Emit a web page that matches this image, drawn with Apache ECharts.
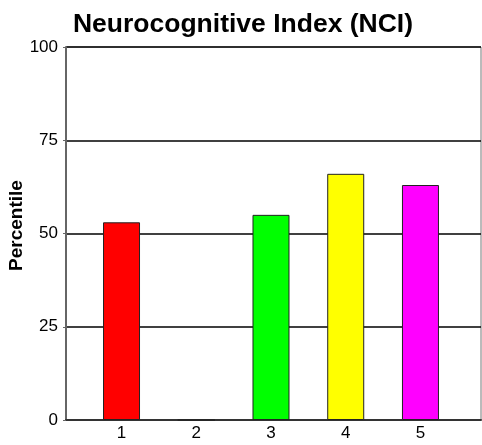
<!DOCTYPE html>
<html>
<head>
<meta charset="utf-8">
<script src="https://cdn.jsdelivr.net/npm/echarts@6/dist/echarts.min.js"></script>
<style>html,body{margin:0;padding:0;background:#fff;}#c{width:482px;height:445px;}</style>
</head>
<body>
<div id="c"></div>
<script>
const categories = [1, 2, 3, 4, 5];
const values = [53, 0, 55, 66, 63];
const barColors = ['#FF0000', '#0000FF', '#00FF00', '#FFFF00', '#FF00FF'];
const yTicks = [0, 25, 50, 75, 100];

const chart = echarts.init(document.getElementById('c'), null, {renderer: 'canvas'});
chart.setOption({
  animation: false,
  backgroundColor: '#fff',
  title: {
    text: 'Neurocognitive Index (NCI)',
    left: 238, top: 6, textAlign: 'center',
    textStyle: {fontFamily: 'Liberation Sans, Arial', fontSize: 26.5, fontWeight: 'bold', color: '#000'}
  },
  grid: {left: 66, right: 1, top: 47, bottom: 25, containLabel: false, outerBoundsMode: 'none',
         show: true, borderColor: '#777', borderWidth: 1, backgroundColor: '#fff'},
  xAxis: {
    type: 'value', min: 0.257, max: 5.81,
    axisLine: {show: true, onZero: false, lineStyle: {color: '#333', width: 2}},
    axisTick: {show: false},
    splitLine: {show: false},
    axisLabel: {
      customValues: categories,
      fontFamily: 'Liberation Sans, Arial', fontSize: 17, color: '#000', margin: 5
    }
  },
  yAxis: {
    type: 'value', min: 0, max: 100, interval: 25,
    name: 'Percentile', nameLocation: 'middle', nameGap: 40, nameRotate: 90,
    nameMoveOverlap: false,
    nameTextStyle: {fontFamily: 'Liberation Sans, Arial', fontSize: 19, fontWeight: 'bold', color: '#000',
                    padding: [0, 0, 0, 16]},
    axisLine: {show: true, lineStyle: {color: '#666', width: 2}},
    axisTick: {show: true, length: 3, lineStyle: {color: '#666'}},
    splitLine: {show: true, lineStyle: {color: '#000', width: 1.5}},
    axisLabel: {
      customValues: yTicks,
      fontFamily: 'Liberation Sans, Arial', fontSize: 17, color: '#000', margin: 8
    }
  },
  series: [{
    type: 'bar',
    barWidth: 37,
    data: categories.map((c, i) => ({
      value: [c, values[i]],
      itemStyle: {color: barColors[i], borderColor: '#222', borderWidth: 1}
    }))
  }]
});
</script>
</body>
</html>
